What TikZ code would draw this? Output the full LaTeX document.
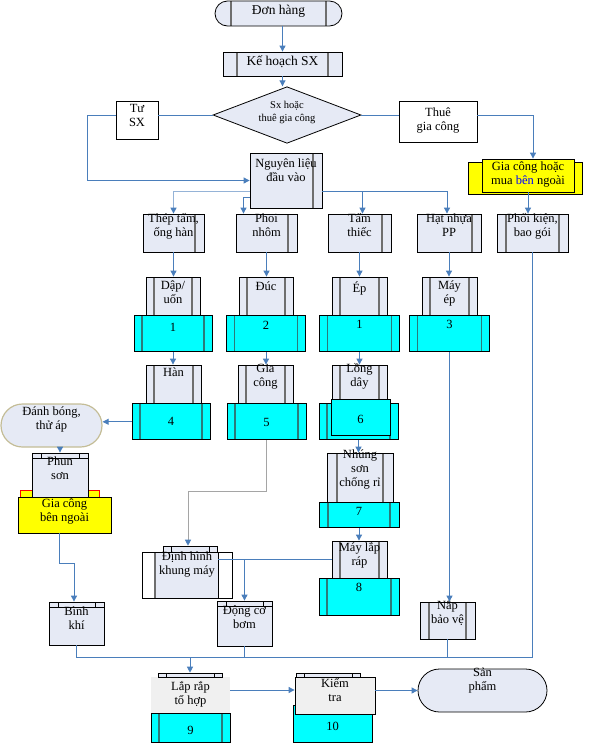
\documentclass[tikz,border=0pt]{standalone}
\usepackage{fontspec}
\setmainfont{Liberation Serif}
\usetikzlibrary{shapes.geometric,shapes.misc,arrows.meta}

\definecolor{lav}{HTML}{E6EAF5}
\definecolor{lineblue}{HTML}{4A7EBB}
\definecolor{paleblue}{HTML}{95B3D7}
\definecolor{linegray}{HTML}{A5A5A5}
\definecolor{bargray}{HTML}{6E6E6E}
\definecolor{tealbar}{HTML}{2B7A7A}
\definecolor{tan}{HTML}{C4BD97}
\definecolor{boxgray}{HTML}{F0F0F0}
\definecolor{aqua}{HTML}{00FFFF}
\definecolor{yell}{HTML}{FFFF00}

% text lines raised inside a box, without changing its size
\newcommand{\stacktext}[2]{\raisebox{\dimexpr#1-3.1pt\relax}[0pt][0pt]{\begin{tabular}{@{}c@{}}#2\end{tabular}}}

\begin{document}
\begin{tikzpicture}[x=1pt, y=-1pt,
	font=\fontsize{12.5}{14}\selectfont,
	bigtext/.style={font=\fontsize{13.5}{15}\selectfont},
	smalltext/.style={font=\fontsize{10.5}{13}\selectfont},
	lavbox/.style={draw, fill=lav, line width=0.8pt, inner sep=0pt},
	whitebox/.style={draw, fill=white, line width=0.8pt, inner sep=0pt},
	ybox/.style={draw, fill=yell, line width=0.8pt, inner sep=0pt},
	cyanbox/.style={draw, fill=aqua, line width=0.8pt, inner sep=0pt},
	term/.style={rounded rectangle, draw, fill=lav, line width=0.8pt, inner sep=0pt},
	decision/.style={diamond, draw, fill=lav, line width=0.8pt, inner sep=0pt, smalltext},
	bars/.style={path picture={
		\draw[bargray, line width=1.6pt]
			([xshift=#1]path picture bounding box.north west) -- ([xshift=#1]path picture bounding box.south west)
			([xshift=-#1]path picture bounding box.north east) -- ([xshift=-#1]path picture bounding box.south east);}},
	bars/.default=8pt,
	tbars/.style={path picture={
		\draw[tealbar, line width=1.6pt]
			([xshift=#1]path picture bounding box.north west) -- ([xshift=#1]path picture bounding box.south west)
			([xshift=-#1]path picture bounding box.north east) -- ([xshift=-#1]path picture bounding box.south east);}},
	tbars/.default=8pt,
	rbar/.style={path picture={
		\draw[bargray, line width=1.6pt]
			([xshift=-9pt]path picture bounding box.north east) -- ([xshift=-9pt]path picture bounding box.south east);}},
	tabbed/.style={path picture={
		\draw[line width=0.6pt]
			([yshift=-5pt]path picture bounding box.north west) -- ([yshift=-5pt]path picture bounding box.north east)
			([xshift=9pt]path picture bounding box.north west) -- ++(0pt,-5pt)
			([xshift=-9pt]path picture bounding box.north east) -- ++(0pt,-5pt);}},
	hdr/.style={draw, fill=lav, line width=0.6pt, inner sep=0pt, minimum height=5pt, path picture={
		\draw[line width=0.6pt]
			([xshift=8pt]path picture bounding box.north west) -- ([xshift=8pt]path picture bounding box.south west)
			([xshift=-8pt]path picture bounding box.north east) -- ([xshift=-8pt]path picture bounding box.south east);}},
	framed/.style={draw, fill=white, line width=0.8pt, inner sep=0pt, path picture={
		\fill[lav] ([xshift=13pt]path picture bounding box.north west) rectangle ([xshift=-14pt]path picture bounding box.south east);
		\draw[bargray, line width=1.2pt] ([xshift=13pt]path picture bounding box.north west) -- ([xshift=13pt]path picture bounding box.south west);
		\draw[line width=0.6pt] ([xshift=-14pt]path picture bounding box.north east) -- ([xshift=-14pt]path picture bounding box.south east);}},
	flow/.style={draw=lineblue, line width=0.9pt, -{Triangle[width=6pt,length=6pt]}},
	paleflow/.style={draw=paleblue, line width=1.4pt, -{Triangle[width=6pt,length=6pt,color=lineblue]}},
	link/.style={draw=lineblue, line width=0.9pt}]

	\useasboundingbox (0,0) rectangle (590,745);

	% order and plan
	\node[term, bars=16pt, bigtext, minimum width=127pt, minimum height=25pt] (don) at (278.5,13.5) {\stacktext{2pt}{Đơn hàng}};
	\node[lavbox, bars=14pt, bigtext, minimum width=119pt, minimum height=24pt] (ke) at (282.5,64) {\stacktext{1pt}{Kế hoạch SX}};
	\node[decision, minimum width=148pt, minimum height=37pt] (dia) at (287,115) {\stacktext{2.5pt}{Sx hoặc\\thuê gia công}};
	\node[whitebox, minimum width=42pt, minimum height=38pt] (tu) at (137,120) {\stacktext{3pt}{Tư\\SX}};
	\node[whitebox, minimum width=78pt, minimum height=41pt] (thue) at (438,121.5) {\stacktext{1pt}{Thuê\\gia công}};
	\node[ybox, minimum width=114pt, minimum height=32pt] (gcback) at (525,178) {};
	\node[ybox, minimum width=92pt, minimum height=33pt] (gcmua) at (528,175.5) {\stacktext{1pt}{Gia công hoặc\\mua \textcolor{blue}{bên} ngoài}};

	% materials
	\node[lavbox, rbar, minimum width=72pt, minimum height=55pt] (nguyen) at (286,180.5) {\stacktext{8.5pt}{Nguyên liệu\\đầu vào}};
	\node[lavbox, rbar, minimum width=61pt, minimum height=38pt] (thep) at (173.5,233) {\stacktext{6pt}{Thép tấm,\\ống hàn}};
	\node[lavbox, rbar, minimum width=61pt, minimum height=38pt] (phoi) at (266.5,233) {\stacktext{6pt}{Phoi\\nhôm}};
	\node[lavbox, rbar, minimum width=63pt, minimum height=38pt] (tam) at (359.5,233) {\stacktext{6pt}{Tấm\\thiếc}};
	\node[lavbox, rbar, minimum width=64pt, minimum height=38pt] (hat) at (449,233) {\stacktext{6pt}{Hạt nhựa\\PP}};
	\node[lavbox, bars=9pt, minimum width=71pt, minimum height=38pt] (phoikien) at (532.5,233) {\stacktext{6pt}{Phối kiện,\\bao gói}};

	% first machines
	\node[lavbox, bars, minimum width=54pt, minimum height=38pt] (dap) at (173,296) {\stacktext{2pt}{Dập/\\uốn}};
	\node[cyanbox, tbars, minimum width=78pt, minimum height=36pt, anchor=north] (dapB) at (dap.south) {\stacktext{5pt}{1}};
	\node[lavbox, bars, minimum width=54pt, minimum height=38pt] (duc) at (266,296) {\stacktext{8pt}{Đúc}};
	\node[cyanbox, tbars, minimum width=79pt, minimum height=36pt, anchor=north] (ducB) at (duc.south) {\stacktext{7pt}{2}};
	\node[lavbox, bars, minimum width=55pt, minimum height=38pt] (ep) at (359.5,296) {\stacktext{7pt}{Ép}};
	\node[cyanbox, tbars, minimum width=80pt, minimum height=36pt, anchor=north] (epB) at (ep.south) {\stacktext{8pt}{1}};
	\node[lavbox, bars, minimum width=55pt, minimum height=38pt] (mayep) at (449.5,296) {\stacktext{2pt}{Máy\\ép}};
	\node[cyanbox, tbars, minimum width=80pt, minimum height=36pt, anchor=north] (mayepB) at (mayep.south) {\stacktext{8pt}{3}};

	% second machines
	\node[lavbox, bars, minimum width=55pt, minimum height=38pt] (han) at (173.5,384) {\stacktext{10pt}{Hàn}};
	\node[cyanbox, tbars, minimum width=78pt, minimum height=36pt, anchor=north] (hanB) at ([xshift=-2.5pt]han.south) {\stacktext{-1pt}{4}};
	\node[lavbox, bars, minimum width=55pt, minimum height=38pt] (giacong) at (265.5,384) {\stacktext{7.5pt}{Gia\\công}};
	\node[cyanbox, tbars, minimum width=79pt, minimum height=36pt, anchor=north] (giacongB) at ([xshift=1pt]giacong.south) {\stacktext{-2pt}{5}};
	\node[lavbox, bars, minimum width=55pt, minimum height=38pt] (longday) at (359.5,384) {\stacktext{7pt}{Lồng\\dây}};
	\node[cyanbox, tbars, minimum width=79pt, minimum height=36pt, anchor=north] (longdayB) at ([xshift=-1pt]longday.south) {};
	\node[cyanbox, minimum width=59pt, minimum height=36pt] (longdayF) at (360.5,417) {\stacktext{-4pt}{6}};

	\node[lavbox, bars=10pt, minimum width=66pt, minimum height=49pt] (nhung) at (360,477.5) {\stacktext{8pt}{Nhúng\\sơn\\chống rỉ}};
	\node[cyanbox, tbars=9pt, minimum width=80pt, minimum height=25pt, anchor=north] (nhungB) at ([xshift=-1pt]nhung.south) {\stacktext{2.5pt}{7}};
	\node[lavbox, bars, minimum width=55pt, minimum height=37pt] (may) at (359.5,559.5) {\stacktext{4pt}{Máy lắp\\ráp}};
	\node[cyanbox, tbars, minimum width=80pt, minimum height=37pt, anchor=north] (mayB) at ([xshift=-0.5pt]may.south) {\stacktext{8.5pt}{8}};
	\node[lavbox, bars=9pt, minimum width=55pt, minimum height=37pt] (nap) at (447.5,620.5) {\stacktext{7pt}{Nắp\\bảo vệ}};

	% finishing on the left
	\draw[draw=red, fill=yell, line width=0.6pt] (20,490) rectangle (32,497);
	\draw[draw=red, fill=yell, line width=0.6pt] (88,490) rectangle (99,497);
	\node[term, draw=tan, line width=1.2pt, minimum width=101pt, minimum height=43pt] (danh) at (51.5,425.5) {\stacktext{5.5pt}{Đánh bóng,\\thử áp}};
	\node[lavbox, tabbed, minimum width=56pt, minimum height=44pt] (phun) at (60,475) {\stacktext{5pt}{Phun\\sơn}};
	\node[ybox, minimum width=93pt, minimum height=36pt] (gcngoai) at (64.5,515) {\stacktext{3.5pt}{Gia công\\bên ngoài}};
	\node[lavbox, tabbed, minimum width=55pt, minimum height=43pt] (binh) at (76.5,623.5) {\stacktext{3.5pt}{Bình\\khí}};
	\node[hdr, minimum width=54pt, minimum height=6pt] (dinhH) at (190,549) {};
	\node[framed, minimum width=90pt, minimum height=46pt] (dinh) at (187,575) {\stacktext{10.5pt}{Định hình\\khung máy}};
	\node[lavbox, tabbed, minimum width=55pt, minimum height=45pt] (dong) at (244.5,623.5) {\stacktext{5pt}{Động cơ\\bơm}};

	% assembly and product
	\node[cyanbox, tbars, minimum width=79pt, minimum height=29pt] (lapB) at (190.5,727.5) {\stacktext{-4.5pt}{9}};
	\node[fill=boxgray, inner sep=0pt, minimum width=79pt, minimum height=36pt] (lap) at (190.5,695) {\stacktext{0pt}{Lắp rắp\\tổ hợp}};
	\node[hdr, minimum width=64pt, minimum height=4pt] (lapH) at (190,675) {};
	\node[cyanbox, minimum width=79pt, minimum height=37pt] (kiemB) at (332.5,723.5) {\stacktext{-4.5pt}{10}};
	\node[draw, fill=boxgray, line width=0.8pt, inner sep=0pt, minimum width=80pt, minimum height=37pt] (kiem) at (335,695.5) {\stacktext{3.5pt}{Kiểm\\tra}};
	\node[hdr, minimum width=64pt, minimum height=4pt] (kiemH) at (328,675) {};
	\node[term, minimum width=129pt, minimum height=43pt] (san) at (482.5,690.5) {\stacktext{10pt}{Sản\\phẩm}};

	% connectors
	\draw[flow] (don.south -| ke.north) -- (ke.north);
	\draw[flow] (ke.south) -- (ke.south |- dia.north);
	\draw[link] (dia.west) -- (dia.west -| tu.east);
	\draw[flow] (dia.west -| tu.west) -- ++(-28,0) |- (nguyen.west);
	\draw[link] (dia.east) -- (dia.east -| thue.west);
	\draw[flow] (dia.east -| thue.east) -| ([xshift=5pt]gcmua.north);
	\draw[flow] (gcmua.south) -- (gcmua.south |- phoikien.north);

	\draw[paleflow] ([yshift=17pt]nguyen.south west) -| (thep.north);
	\draw[flow] ([yshift=11pt]nguyen.south west) -| ([xshift=-23pt]phoi.north);
	\draw[flow] ([yshift=17pt]nguyen.south east) -| ([xshift=3pt]tam.north);
	\draw[flow] ([yshift=17pt]nguyen.south east) -| ([xshift=-2pt]hat.north);

	\draw[flow] (thep.south) -- (thep.south |- dap.north);
	\draw[flow] (phoi.south) -- (phoi.south |- duc.north);
	\draw[flow] (tam.south) -- (tam.south |- ep.north);
	\draw[flow] (hat.south) -- (hat.south |- mayep.north);
	\draw[flow] (dapB.south) -- (dapB.south |- han.north);
	\draw[flow] (ducB.south) -- (ducB.south |- giacong.north);
	\draw[flow] (epB.south) -- (epB.south |- longday.north);
	\draw[flow] (mayepB.south) -- (mayepB.south |- nap.north);
	\draw[flow] (longdayB.south) -- (longdayB.south |- nhung.north);
	\draw[flow] (nhungB.south) -- (nhungB.south |- may.north);

	\draw[flow] (hanB.west) -- (hanB.west -| danh.east);
	\draw[flow] (phun.north |- danh.south) -- (phun.north);
	\draw[flow] ([xshift=-5pt]gcngoai.south) -- ++(0,30) -| ([xshift=-2.5pt]binh.north);
	\draw[flow, draw=linegray, -{Triangle[width=6pt,length=6pt,color=lineblue]}] (giacongB.south) -- ++(0,51) -| ([xshift=-2pt]dinhH.north);
	\draw[link] (may.west) -- ([xshift=-14pt]dinh.east |- may.west);
	\draw[flow] (dong.north |- may.west) -- (dong.north);

	\coordinate (bus) at ([yshift=-12pt]binh.south);
	\draw[link] (binh.south) -- (bus) -| (phoikien.south);
	\draw[link] (dong.south) -- (dong.south |- bus);
	\draw[link] (nap.south) -- (nap.south |- bus);
	\draw[flow] (lapH.north |- bus) -- (lapH.north);
	\draw[flow] ([yshift=5pt]lap.east) -- ([yshift=5pt]lap.east -| kiem.west);
	\draw[flow] (kiem.east |- san.west) -- (san.west);
\end{tikzpicture}
\end{document}
